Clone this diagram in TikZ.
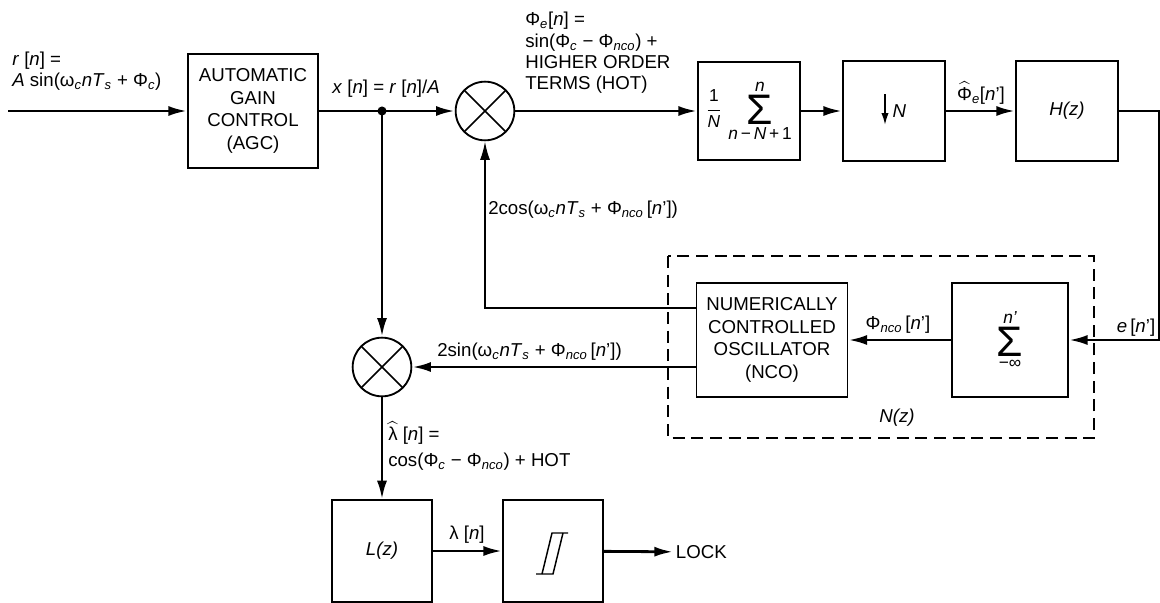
\documentclass[tikz,border=0pt]{standalone}
\usepackage{amsmath}
\usepackage{fontspec}
\setmainfont{Liberation Sans}
\usepackage{tikz}
\usetikzlibrary{positioning,calc,arrows.meta}
\newcommand{\sbs}[1]{\textsubscript{\itshape #1}}
\newcommand{\iv}[1]{\textit{#1}}
\newcommand{\fs}[1]{\fontsize{#1}{#1}\selectfont}
\newcommand{\bigsig}{\mathop{\vcenter{\hbox{\fs{32}Σ}}}\limits}
\tikzset{
  blk/.style={draw,line width=1.4pt,inner sep=0pt,align=center,font=\fontsize{14}{17}\selectfont},
  lbl/.style={inner sep=0pt,align=left,font=\fontsize{14}{16}\selectfont},
  sig/.style={line width=2.1pt,-{Latex[length=14pt,width=7.5pt]}},
  mult/.style={circle,draw,line width=1.4pt,minimum size=44pt,inner sep=0pt,
    path picture={\draw[line width=1.1pt] (path picture bounding box.north west) -- (path picture bounding box.south east)
      (path picture bounding box.north east) -- (path picture bounding box.south west);}}
}

\begin{document}
\begin{tikzpicture}[x=0.75pt,y=-0.75pt]
  \useasboundingbox[fill=white] (0,0) rectangle (1160,603);
  % top row
  \node[blk,minimum width=97.5pt,minimum height=85.5pt] (agc) at (253,111) {AUTOMATIC\\GAIN\\CONTROL\\(AGC)};
  \node[mult] (mix1) at (485,111) {};
  \node[blk,minimum width=76.5pt,minimum height=74pt] (avg) at (749,111)
    {$\displaystyle\frac{\text{\fs{13}1}}{\text{\fs{13}\itshape N}}\,\bigsig_{\text{\fs{13}\iv{n}\,−\,\iv{N}\,+\,1}}^{\text{\fs{13}\itshape n}}$};
  \node[blk,minimum width=76.5pt,minimum height=75pt] (dec) at (894,111) {\hspace*{8pt}\iv{N}};
  \node[blk,minimum width=76.5pt,minimum height=75pt] (hz) at (1067,111) {\iv{H(z)}};
  % nco loop
  \node[blk,minimum width=113.25pt,minimum height=85pt] (nco) at (772,340) {NUMERICALLY\\CONTROLLED\\OSCILLATOR\\(NCO)};
  \node[blk,minimum width=87pt,minimum height=85.5pt] (acc) at (1010,340)
    {$\displaystyle\bigsig_{\text{\fs{13}−∞}}^{\text{\fs{13}\itshape n'}}$};
  % lock detector
  \node[mult] (mix2) at (382,367) {};
  \node[blk,minimum width=75pt,minimum height=76pt] (lz) at (382,551) {\iv{L(z)}};
  \node[blk,minimum width=75pt,minimum height=76pt] (hyst) at (553,551) {};
  \node[lbl,anchor=west,inner sep=2pt] (lock) at (673,552) {LOCK};
  \coordinate (in) at (8,111);
  \coordinate (tap) at (382,111);
  \coordinate (ecorner) at (1159,340);
  % connectors
  \draw[sig] (in) -- (agc);
  \draw[sig] (agc) -- (mix1);
  \fill (tap) circle (3.4pt);
  \draw[sig] (mix1) -- (avg);
  \draw[sig] (avg) -- (dec);
  \draw[sig] (dec) -- (hz);
  \draw[sig] (hz.east) -| (ecorner) -- (acc);
  \draw[sig] (acc) -- (nco);
  \draw[sig,line width=1.5pt] ($(nco.west)+(0,-32)$) -| (mix1);
  \draw[sig] ($(nco.west)+(0,27)$) -- (mix2);
  \draw[sig] (tap) -- (mix2);
  \draw[sig] (mix2) -- (lz);
  \draw[sig] (lz) -- (hyst);
  \draw[sig] (hyst) -- (lock);
  % decimator arrow and hysteresis
  \draw[line width=1.3pt,-{Latex[length=9pt,width=5.5pt]}] ($(dec)+(-9,-17)$) -- ($(dec)+(-9,14)$);
  \draw[line width=1.1pt] ($(hyst)+(-17,23)$) -- ($(hyst)+(0,23)$) -- ($(hyst)+(10,-18)$);
  \draw[line width=1.1pt] ($(hyst)+(15,-18)$) -- ($(hyst)+(-1,-18)$) -- ($(hyst)+(-11,23)$);
  % N(z) boundary
  \draw[line width=1.1pt,dash pattern=on 9pt off 5pt] (668,256) rectangle (1094,438);
  \node[lbl] at (897,418) {\iv{N(z)}};
  % labels
  \node[lbl,anchor=west] at (12,71) {\iv{r} [\iv{n}] =\\\iv{A} sin(ω\sbs{c}\iv{nT}\sbs{s} + Φ\sbs{c})};
  \node[lbl,anchor=west] at (332,89) {\iv{x} [\iv{n}] = \iv{r} [\iv{n}]/\iv{A}};
  \node[lbl,anchor=west] at (525,53) {Φ\sbs{e}[\iv{n}] =\\sin(Φ\sbs{c} − Φ\sbs{nco}) +\\HIGHER ORDER\\TERMS (HOT)};
  \node[lbl] at (981,93) {$\widehat{\text{Φ}}$\sbs{e}[\iv{n}']};
  \node[lbl,anchor=west] at (488,210) {2cos(ω\sbs{c}\iv{nT}\sbs{s} + Φ\sbs{nco}\,[\iv{n}'])};
  \node[lbl] at (898,325) {Φ\sbs{nco}\,[\iv{n}']};
  \node[lbl] at (1136,328) {\iv{e}\,[\iv{n}']};
  \node[lbl,anchor=west] at (437,352) {2sin(ω\sbs{c}\iv{nT}\sbs{s} + Φ\sbs{nco}\,[\iv{n}'])};
  \node[lbl,anchor=west] at (388,446) {$\widehat{\text{λ}}$ [\iv{n}] =\\[3pt]cos(Φ\sbs{c} − Φ\sbs{nco}) + HOT};
  \node[lbl] at (467,535) {λ [\iv{n}]};
\end{tikzpicture}
\end{document}
